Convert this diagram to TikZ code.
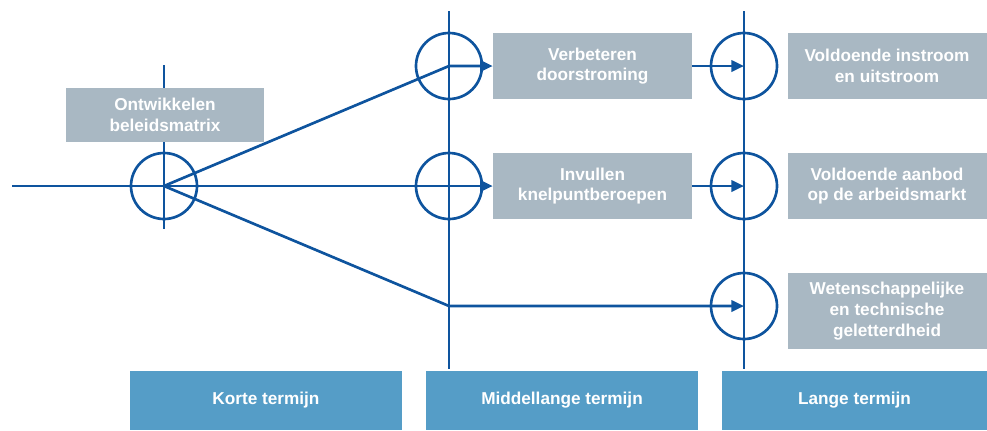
\documentclass[tikz,border=0pt]{standalone}
\usepackage{fontspec}
\setmainfont{Liberation Sans}
\usetikzlibrary{arrows.meta,backgrounds}
\definecolor{lineblue}{RGB}{14,84,158}
\definecolor{greybox}{RGB}{169,184,195}
\definecolor{bluebox}{RGB}{85,157,199}
\tikzset{
  px/.style={x=0.75pt,y=-0.75pt},
  conn/.style={draw=lineblue,line width=2pt},
  arr/.style={conn,-{Triangle[length=9.5pt,width=8.5pt]}},
  ring/.style={circle,draw=lineblue,line width=2pt,minimum size=49.5pt,inner sep=0pt},
  txt/.style={text=white,font=\fontsize{12.9pt}{15.6pt}\selectfont\bfseries,align=center,inner sep=0pt},
  gbox/.style={txt,fill=greybox,minimum height=66*0.75pt,minimum width=199*0.75pt},
  tbox/.style={txt,fill=bluebox,minimum height=59*0.75pt,minimum width=272*0.75pt},
}
\begin{document}
\begin{tikzpicture}[px]
\useasboundingbox (0,0) rectangle (987,430);
% circles
\node[ring] (c1) at (164,186) {};
\node[ring] (c2) at (449,66) {};
\node[ring] (c3) at (449,186) {};
\node[ring] (c5) at (744,66) {};
\node[ring] (c6) at (744,186) {};
\node[ring] (c7) at (744,306) {};
% boxes
\node[gbox,minimum width=198*0.75pt,minimum height=54*0.75pt] (b0) at (165,115) {Ontwikkelen\\beleidsmatrix};
\node[gbox] (b1) at (592.5,66) {Verbeteren\\doorstroming};
\node[gbox] (b2) at (592.5,186) {Invullen\\knelpuntberoepen};
\node[gbox] (b3) at (887,66) {Voldoende instroom\\en uitstroom};
\node[gbox] (b4) at (887,186) {Voldoende aanbod\\op de arbeidsmarkt};
\node[gbox,minimum height=76*0.75pt] (b5) at (887,311) {Wetenschappelijke\\en technische\\geletterdheid};
\node[tbox] (t1) at (266,400.5) {Korte termijn};
\node[tbox] (t2) at (562,400.5) {Middellange termijn};
\node[tbox,minimum width=265*0.75pt] (t3) at (854.5,400.5) {Lange termijn};
% coordinates
\coordinate (s0) at (12,186);
\coordinate (v1t) at (164,65);
\coordinate (v1b) at (164,229);
\coordinate (v2t) at (449,11);
\coordinate (v2b) at (449,369);
\coordinate (v3t) at (744,11);
\coordinate (v3b) at (744,369);
\coordinate (j) at (449,306);
\begin{scope}[on background layer]
\draw[conn] (v1t) -- (v1b);
\draw[conn] (v2t) -- (v2b);
\draw[conn] (v3t) -- (v3b);
\draw[arr] (s0) -- (b2.west);
\draw[arr] (c1.center) -- (c2.center) -- (b1.west);
\draw[arr] (c1.center) -- (j) -- (c7.center);
\draw[arr] (b1.east) -- (c5.center);
\draw[arr] (b2.east) -- (c6.center);
\end{scope}
\end{tikzpicture}
\end{document}
